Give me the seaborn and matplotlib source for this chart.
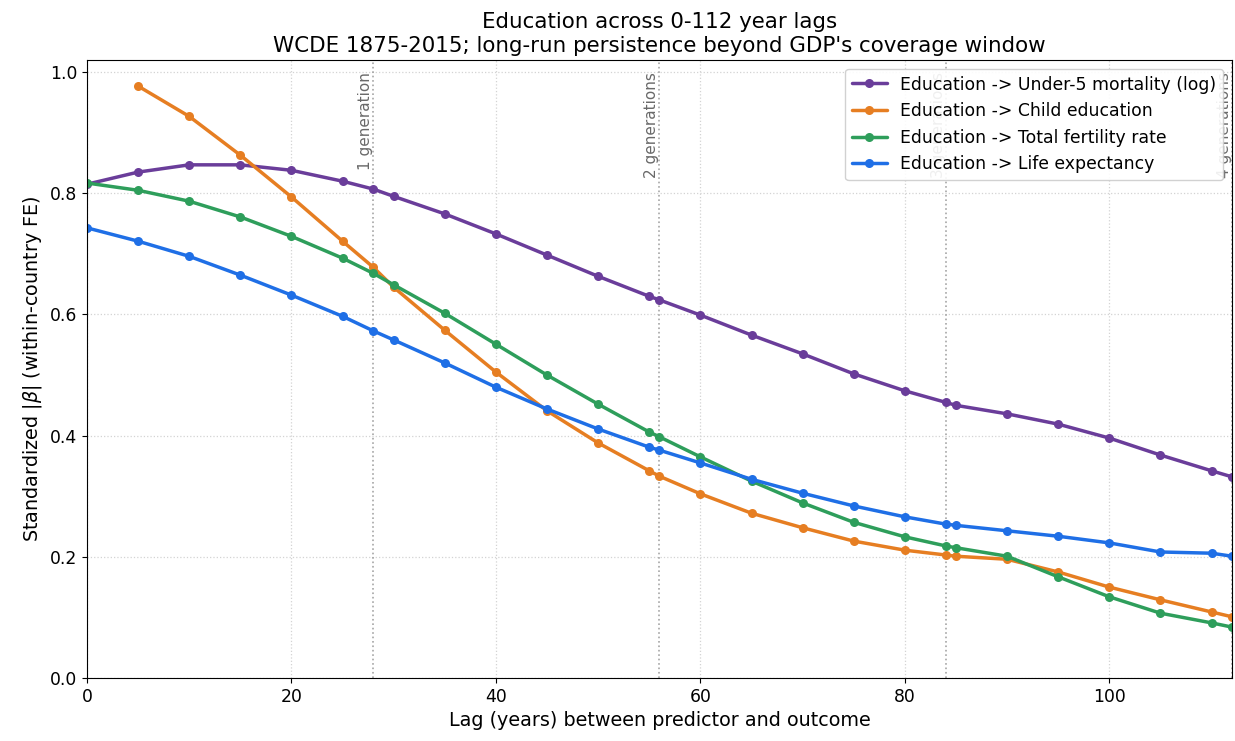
import pandas as pd
import matplotlib
matplotlib.use("Agg")
import matplotlib.pyplot as plt
import seaborn as sns

# Lags (years)
lags = [0, 5, 10, 15, 20, 25, 28, 30, 35, 40, 45, 50, 55, 56, 60, 65, 70,
        75, 80, 84, 85, 90, 95, 100, 105, 110, 112]

mortalidad = [0.815, 0.835, 0.847, 0.847, 0.838, 0.820, 0.807, 0.795, 0.766,
              0.733, 0.698, 0.663, 0.630, 0.624, 0.599, 0.566, 0.535, 0.502,
              0.474, 0.455, 0.450, 0.436, 0.419, 0.396, 0.368, 0.342, 0.332]

# Child education starts at lag 5
educacion_hijos = [None, 0.977, 0.927, 0.863, 0.794, 0.721, 0.678, 0.645, 0.574,
                   0.505, 0.441, 0.388, 0.342, 0.333, 0.304, 0.272, 0.248, 0.226,
                   0.211, 0.203, 0.201, 0.196, 0.175, 0.150, 0.129, 0.109, 0.101]

fertilidad = [0.817, 0.805, 0.787, 0.761, 0.729, 0.693, 0.668, 0.649, 0.602,
              0.551, 0.500, 0.452, 0.406, 0.398, 0.365, 0.325, 0.289, 0.257,
              0.233, 0.218, 0.215, 0.201, 0.167, 0.134, 0.107, 0.091, 0.084]

esperanza_vida = [0.743, 0.721, 0.696, 0.665, 0.632, 0.597, 0.573, 0.558, 0.520,
                  0.480, 0.444, 0.411, 0.381, 0.376, 0.355, 0.328, 0.305, 0.284,
                  0.266, 0.254, 0.252, 0.243, 0.234, 0.223, 0.208, 0.206, 0.201]

series = {
    'Education -> Under-5 mortality (log)': mortalidad,
    'Education -> Child education': educacion_hijos,
    'Education -> Total fertility rate': fertilidad,
    'Education -> Life expectancy': esperanza_vida,
}
colores = ['#6a3d9a', '#e67e22', '#2e9e5b', '#1f6fe6']

generaciones = [28, 56, 84, 112]
etiquetas_gen = ['1 generation', '2 generations', '3 generations', '4 generations']

# Armar el DataFrame largo
filas = []
for nombre, valores in series.items():
    for lag, v in zip(lags, valores):
        if v is not None:
            filas.append({'lag': lag, 'beta': v, 'serie': nombre})
df = pd.DataFrame(filas)

sns.set_style('ticks')
plt.rcParams.update({'text.color': 'black', 'axes.labelcolor': 'black',
                     'xtick.color': 'black', 'ytick.color': 'black',
                     'axes.edgecolor': 'black'})
fig, ax = plt.subplots(figsize=(12.35, 7.41), dpi=100)

sns.lineplot(data=df, x='lag', y='beta', hue='serie', palette=colores,
             marker='o', markersize=6.5, markeredgewidth=0, linewidth=2.5, ax=ax)

# Lineas de generaciones
for g, txt in zip(generaciones, etiquetas_gen):
    ax.axvline(g, color='gray', linestyle=':', linewidth=1.2, alpha=0.7, zorder=1)
    ax.text(g, 0.98, txt, transform=ax.get_xaxis_transform(), rotation=90,
            ha='right', va='top', fontsize=11, color='dimgray', zorder=1)

ax.set_xlim(0, 112)
ax.set_ylim(0, 1.02)
ax.grid(True, linestyle=':', color='lightgray', linewidth=0.9)
ax.set_axisbelow(True)

ax.set_title("Education across 0-112 year lags\nWCDE 1875-2015; long-run persistence beyond GDP's coverage window",
             fontsize=15.4)
ax.set_xlabel('Lag (years) between predictor and outcome', fontsize=13.8)
ax.set_ylabel(r'Standardized |$\beta$| (within-country FE)', fontsize=13.8)
ax.tick_params(labelsize=12.4)

leg = ax.legend(loc='upper right', fontsize=12.4, framealpha=0.9)
leg.set_title(None)

plt.subplots_adjust(left=0.0704, right=0.9976, top=0.919, bottom=0.085)
plt.savefig('out.png', dpi=100)
